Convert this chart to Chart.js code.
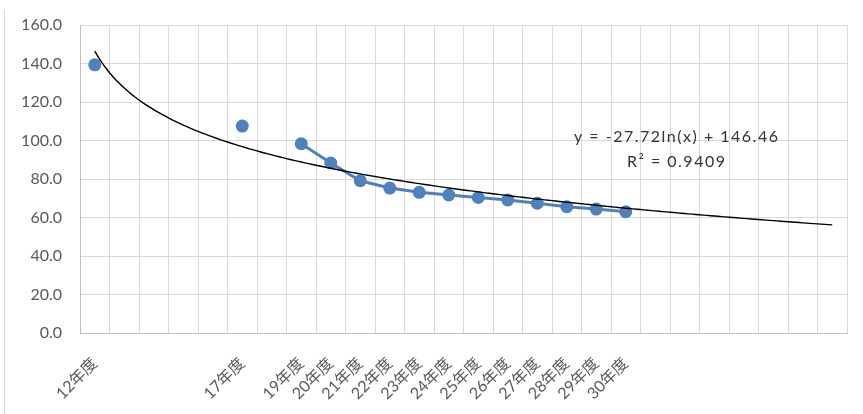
<!DOCTYPE html>
<html>
<head>
<meta charset="utf-8">
<style>
  html, body { margin: 0; padding: 0; background: #ffffff; }
  #wrap { width: 863px; height: 414px; }
</style>
<script src="https://cdn.jsdelivr.net/npm/chart.js@4.4.1/dist/chart.umd.min.js"></script>
</head>
<body>
<div id="wrap"><canvas id="chart" width="863" height="414"></canvas></div>
<script>
// Fiscal-year categories (blank slots keep the spacing of missing years)
const categories = [
  "12年度", "", "", "", "", "17年度", "", "19年度", "20年度", "21年度",
  "22年度", "23年度", "24年度", "25年度", "26年度", "27年度", "28年度",
  "29年度", "30年度", "", "", "", "", "", "", ""
];

// Observed values per category (null = no observation)
const values = [
  139.3, null, null, null, null, 107.5, null, 98.3, 88.3, 79.1,
  75.3, 73.1, 71.7, 70.4, 69.1, 67.4, 65.6, 64.4, 63.0,
  null, null, null, null, null, null, null
];

// Logarithmic trendline y = a·ln(x) + b, x = category number (1-based)
const trendA = -27.72;
const trendB = 146.46;
const trendR2 = 0.9409;

// Value-axis ticks
const yTicks = { min: 0, max: 160, step: 20 };

const FONT = "Lato, 'Noto Sans CJK JP', sans-serif";
const BLUE = "#4F81BD";
const GRID = "#d9d9d9";

// Sample the fitted curve finely along the category positions
const trendPoints = [];
for (let x = 1; x <= categories.length + 1e-9; x += 0.125) {
  trendPoints.push({ x: x, y: trendA * Math.log(x) + trendB });
}

const fmt = (n) => n.toFixed(2);
const eqLine1 = "y = " + (trendA < 0 ? "-" : "") + fmt(Math.abs(trendA)) + "ln(x) + " + fmt(trendB);
const eqLine2 = "R\u00B2 = " + trendR2.toFixed(4);

// White background and the chart-area edge on the left
const frame = {
  id: "frame",
  beforeDraw(chart) {
    const ctx = chart.ctx;
    ctx.save();
    ctx.fillStyle = "#ffffff";
    ctx.fillRect(0, 0, chart.width, chart.height);
    ctx.strokeStyle = GRID;
    ctx.lineWidth = 1;
    ctx.beginPath();
    ctx.moveTo(4.5, 10);
    ctx.lineTo(4.5, chart.height);
    ctx.stroke();
    ctx.restore();
  }
};

// Trendline equation and R² label
const equationLabel = {
  id: "equationLabel",
  afterDatasetsDraw(chart) {
    const ctx = chart.ctx;
    const area = chart.chartArea;
    const cx = area.left + 0.778 * (area.right - area.left);
    const y1 = area.top + 0.362 * (area.bottom - area.top);
    ctx.save();
    ctx.fillStyle = "#333333";
    ctx.font = "16px " + FONT;
    if ("letterSpacing" in ctx) ctx.letterSpacing = "1.5px";
    ctx.textAlign = "center";
    ctx.textBaseline = "middle";
    ctx.fillText(eqLine1, cx, y1);
    ctx.fillText(eqLine2, cx, y1 + 25);
    ctx.restore();
  }
};

new Chart(document.getElementById("chart"), {
  type: "line",
  data: {
    labels: categories,
    datasets: [
      {
        label: "実績",
        data: values,
        borderColor: BLUE,
        backgroundColor: BLUE,
        borderWidth: 3,
        pointRadius: 6.5,
        pointHoverRadius: 6.5,
        pointBorderWidth: 0,
        pointBackgroundColor: BLUE,
        spanGaps: false,
        order: 2
      },
      {
        label: "対数近似",
        data: trendPoints,
        xAxisID: "xTrend",
        borderColor: "#000000",
        borderWidth: 1.4,
        pointRadius: 0,
        tension: 0,
        fill: false,
        order: 1
      }
    ]
  },
  options: {
    responsive: false,
    devicePixelRatio: 1,
    animation: false,
    layout: { padding: { left: 0, right: 16, top: 25, bottom: 0 } },
    plugins: {
      legend: { display: false },
      tooltip: { enabled: false }
    },
    scales: {
      x: {
        type: "category",
        offset: true,
        grid: { offset: true, color: GRID, lineWidth: 1, drawTicks: false },
        border: { display: true, color: "#bfbfbf", width: 1 },
        ticks: {
          autoSkip: false,
          maxRotation: 45,
          minRotation: 45,
          padding: 21,
          color: "#595959",
          font: { family: FONT, size: 16 }
        },
        afterFit(scale) {
          scale.height = 81;
          scale.paddingLeft = 0;
          scale.paddingRight = 0;
        }
      },
      xTrend: {
        type: "linear",
        display: false,
        min: 0.5,
        max: categories.length + 0.5
      },
      y: {
        min: yTicks.min,
        max: yTicks.max,
        grid: { color: GRID, lineWidth: 1, drawTicks: false },
        border: { display: true, color: "#bfbfbf", width: 1 },
        ticks: {
          stepSize: yTicks.step,
          padding: 18,
          color: "#595959",
          font: { family: FONT, size: 16 },
          callback: (v) => Number(v).toFixed(1)
        },
        afterFit(scale) {
          scale.width = 80;
          scale.paddingTop = 0;
          scale.paddingBottom = 0;
        }
      }
    }
  },
  plugins: [frame, equationLabel]
});
</script>
</body>
</html>
